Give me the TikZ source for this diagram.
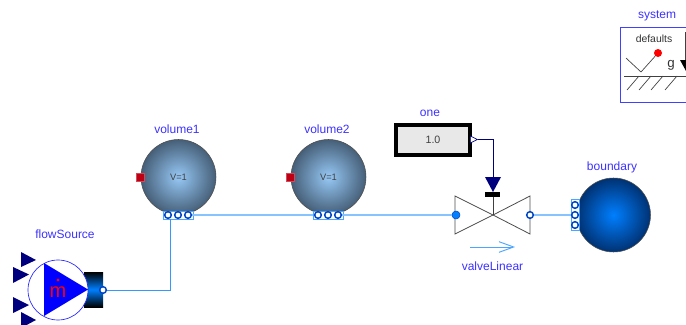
\documentclass[tikz,border=0pt]{standalone}
\usepackage{fontspec}
\setmainfont{Liberation Sans}
\usetikzlibrary{shapes.geometric,arrows.meta}
\definecolor{labelblue}{RGB}{60,50,255}
\definecolor{pipeblue}{RGB}{135,195,255}
\definecolor{fluidblue}{RGB}{0,127,255}
\definecolor{signalblue}{RGB}{0,0,127}
\definecolor{volred}{RGB}{190,0,20}
\tikzset{
    lbl/.style={text=labelblue, font=\fontsize{9}{9}\selectfont, inner sep=0pt},
    pipe/.style={draw=pipeblue, line width=1.2pt},
    portbox/.style={draw=fluidblue!70, fill=white, line width=0.5pt, minimum width=22.5pt, minimum height=6pt, inner sep=0pt, rectangle},
    portopen/.style={draw=signalblue!45!fluidblue, fill=white, circle, line width=1.1pt, minimum size=5pt, inner sep=0pt},
    vol/.style={draw=black!70, circle, minimum size=56.25pt, inner sep=0pt, inner color={rgb,255:red,150;green,200;blue,245}, outer color={rgb,255:red,70;green,95;blue,120}, font=\fontsize{7}{7}\selectfont, text=black!75},
    heatport/.style={fill=volred, draw=volred!70!white, minimum size=6pt, inner sep=0pt, rectangle},
    sigtri/.style={fill=signalblue, draw=none},
    hatch/.style={draw=black!75, line width=0.5pt}
}
\begin{document}
\begin{tikzpicture}[x=0.75pt, y=-0.75pt]
        \useasboundingbox (0,0) rectangle (686,325);
        \clip (0,0) rectangle (686,325);

        \node[lbl] (flowLabel) at (65,234) {flowSource};
        \node[lbl] (vol1Label) at (177,129) {volume1};
        \node[lbl] (vol2Label) at (327,129) {volume2};
        \node[lbl] (oneLabel) at (430,113.5) {one};
        \node[lbl] (valveLabel) at (492.5,266) {valveLinear};
        \node[lbl] (boundLabel) at (612,167) {boundary};
        \node[lbl] (sysLabel) at (657,16) {system};

        \node[vol] (volume1) at (178.5,177) {V=1};
        \node[vol] (volume2) at (328.5,177) {V=1};
        \node[heatport] (heat1) at (140.5,177.5) {};
        \node[heatport] (heat2) at (290.5,177.5) {};

        \node[draw=black!70, circle, minimum size=55.5pt, inner sep=0pt, inner color=fluidblue, outer color={rgb,255:red,0;green,50;blue,115}] (boundary) at (613.5,215) {};

        \node[portbox] (box1) at (178,215) {};
        \node[portbox] (box2) at (328,215) {};
        \node[portbox, minimum width=6pt, minimum height=23pt] (box3) at (575,215) {};
        \foreach \px/\pn in {168/a,178/b,188/c} {
            \node[portopen] (v1\pn) at (\px,215) {};
        }
        \foreach \px/\pn in {318/a,328/b,338/c} {
            \node[portopen] (v2\pn) at (\px,215) {};
        }
        \foreach \py/\pn in {205/a,215/b,225/c} {
            \node[portopen] (b\pn) at (575,\py) {};
        }

        \coordinate (valveC) at (493,215);
        \draw[black!70, line width=0.6pt] (valveC) -- (455,196) -- (455,234) -- cycle;
        \draw[black!70, line width=0.6pt] (valveC) -- (530,196) -- (530,234) -- cycle;
        \node[fill=fluidblue, draw=signalblue!45!fluidblue, circle, minimum size=6pt, inner sep=0pt] (valveA) at (456,215) {};
        \node[portopen] (valveB) at (530,215) {};

        \node[draw=black, fill=black!9, line width=3pt, minimum width=55.5pt, minimum height=23pt, inner sep=0pt, font=\fontsize{8}{8}\selectfont, text=black!75] (one) at (433,140) {1.0};
        \node[draw=signalblue, fill=white, isosceles triangle, isosceles triangle stretches, minimum width=5.25pt, minimum height=5.25pt, inner sep=0pt, line width=0.5pt, anchor=lower side] (oneOut) at (470,139.5) {};
        \coordinate (valveIn) at (493,177);
        \fill[signalblue] (485,177) -- (501,177) -- (493,192) -- cycle;
        \fill[black] (485,192) rectangle (500,197);
        \draw[black!75, line width=0.6pt] (493,197) -- (valveC);
        \draw[signalblue, line width=0.6pt] (oneOut.apex) -| (valveIn);

        \draw[pipe] (v1c) -- (box2.west);
        \draw[pipe] (v2c) -- (valveA);
        \draw[pipe] (valveB) -- (box3.west);

        \draw[-{Straight Barb[length=11pt,width=8pt]}, fluidblue!70, line width=0.7pt] (470,247) -- (515,247);

        \fill[sigtri] (21,252) -- (36,260) -- (21,267) -- cycle;
        \fill[sigtri] (13,267) -- (29,274.5) -- (13,283) -- cycle;
        \fill[sigtri] (13,297) -- (29,305) -- (13,313) -- cycle;
        \fill[sigtri] (21,312) -- (36,320) -- (21,328) -- cycle;

        \node[rectangle, minimum width=14.25pt, minimum height=26.25pt, inner sep=0pt, top color=black, bottom color=black, middle color=fluidblue] (flowBody) at (93.5,289.5) {};
        \node[draw=blue!85!white, fill=white, circle, minimum size=45pt, inner sep=0pt, line width=0.5pt] (flowSource) at (58,290) {};
        \fill[blue] (44,263) -- (88,289.5) -- (44,316) -- cycle;
        \node[text=red, inner sep=0pt, font=\fontsize{15}{15}\selectfont] (flowM) at (58,292) {m};
        \node[fill=red, circle, minimum size=2.5pt, inner sep=0pt] (flowDot) at (58,280) {};
        \node[portopen] (flowPort) at (103,290) {};
        \coordinate (volIn) at (170,219);
        \draw[fluidblue!80, line width=0.6pt] (flowPort) -| (volIn);

        \node[draw=blue!75, fill=white, line width=0.75pt, anchor=north west, minimum width=60pt, minimum height=56pt, inner sep=0pt] (system) at (620,27) {};
        \node[inner sep=0pt, text=black!80, font=\fontsize{7.8}{7.8}\selectfont] (defaults) at (654,39) {defaults};
        \node[fill=red, circle, minimum size=6pt, inner sep=0pt] (sysDot) at (658,53) {};
        \node[inner sep=0pt, text=black!80, font=\fontsize{10}{10}\selectfont] (gLabel) at (671,65) {g};
        \draw[hatch] (626,58) -- (641,72) -- (sysDot);
        \draw[hatch] (624,76) -- (686,76);
        \foreach \hx in {639,651,663,677} {
            \draw[hatch] (\hx,76) -- ++(-12,14);
        }
        \draw[black!75, line width=1pt] (686,32) -- (686,60);
        \fill[black] (680,60) -- (686,71) -- (692,60) -- cycle;
    \end{tikzpicture}
\end{document}
